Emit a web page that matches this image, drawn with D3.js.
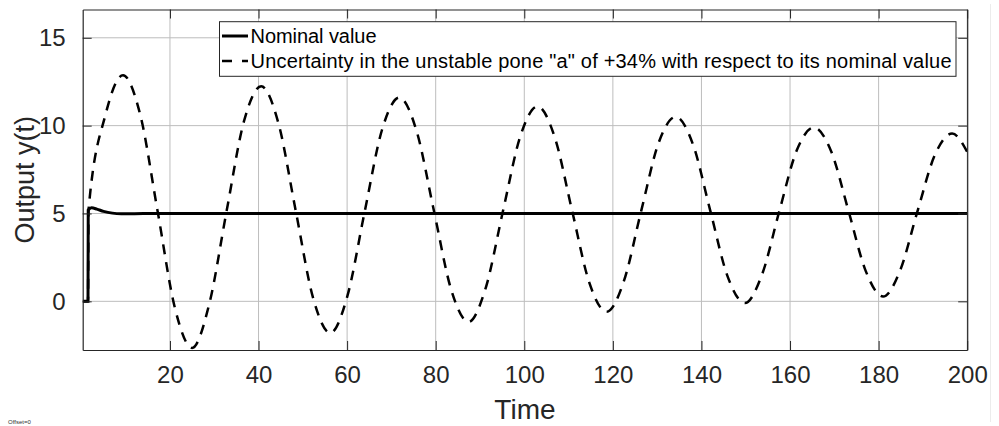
<!DOCTYPE html>
<html>
<head>
<meta charset="utf-8">
<script src="https://cdn.jsdelivr.net/npm/d3@7"></script>
<style>
  html, body { margin: 0; padding: 0; background: #fff; }
  svg { display: block; font-family: "Liberation Sans", Arial, Helvetica, sans-serif; }
</style>
</head>
<body>
<svg id="chart" width="999" height="426"></svg>
<script>
// ---- data ----
const nominalTime  = [0.3, 1.5, 1.55, 2.3, 3.5, 5, 7, 9, 12, 16, 200];
const nominalValue = [0, 0, 5.2, 5.32, 5.25, 5.12, 5.02, 4.99, 4.99, 5.0, 5.0];

const uncertainTime = [0.3, 1.5, 1.6, 5.5, 9.4, 13.3, 17.2, 21.1, 25.0, 28.9, 32.8, 36.7, 40.6, 44.5,
  48.4, 52.3, 56.2, 60.1, 64.0, 67.9, 71.8, 75.7, 79.6, 83.5, 87.4, 91.3, 95.2, 99.1, 103.0, 106.9,
  110.8, 114.7, 118.6, 122.5, 126.4, 130.3, 134.2, 138.1, 142.0, 145.9, 149.8, 153.7, 157.6, 161.5,
  165.4, 169.3, 173.2, 177.1, 181.0, 184.9, 188.8, 192.7, 196.6, 200];
const uncertainValue = [0, 0, 5.15, 10.67, 12.87, 10.61, 5.15, -0.36, -2.65, -0.12, 5.15, 10.24, 12.24, 10.13,
  5.15, 0.21, -1.8, 0.34, 5.15, 9.78, 11.6, 9.68, 5.15, 0.66, -1.17, 0.77, 5.15, 9.39, 11.1, 9.32,
  5.15, 1.05, -0.6, 1.16, 5.15, 9.0, 10.5, 8.92, 5.15, 1.42, -0.1, 1.54, 5.15, 8.58,
  9.9, 8.53, 5.15, 1.72, 0.27, 1.79, 5.15, 8.33, 9.55, 8.51];

const xTicks = [20, 40, 60, 80, 100, 120, 140, 160, 180, 200];
const yTicks = [0, 5, 10, 15];
const legendLabels = ["Nominal value", "Uncertainty in the unstable pone \"a\" of +34% with respect to its nominal value"];
const xLabel = "Time";
const yLabel = "Output y(t)";

// ---- layout ----
const L = 82.7, R = 967.2, T = 9.5, B = 350;
const svg = d3.select("#chart");

const x = d3.scaleLinear().domain([0.3, 200]).range([L, R]);
const y = d3.scaleLinear().domain([-2.77, 16.61]).range([B, T]);

// faint right border strip
svg.append("line").attr("x1", 990.5).attr("x2", 990.5).attr("y1", 4).attr("y2", 422)
  .attr("stroke", "#ececec").attr("stroke-width", 1);

// grid
const grid = svg.append("g");
grid.selectAll(".gx").data(xTicks).enter().append("line")
  .attr("x1", d => x(d)).attr("x2", d => x(d)).attr("y1", T).attr("y2", B)
  .attr("stroke", "#bdbdbd").attr("stroke-width", 1);
grid.selectAll(".gy").data(yTicks).enter().append("line")
  .attr("x1", L).attr("x2", R).attr("y1", d => y(d)).attr("y2", d => y(d))
  .attr("stroke", "#bdbdbd").attr("stroke-width", 1);

// clip
svg.append("defs").append("clipPath").attr("id", "clip")
  .append("rect").attr("x", L).attr("y", T).attr("width", R - L).attr("height", B - T);

const nomData = nominalTime.map((t, i) => [t, nominalValue[i]]);
const uncData = uncertainTime.map((t, i) => [t, uncertainValue[i]]);

const line = d3.line().x(d => x(d[0])).y(d => y(d[1])).curve(d3.curveMonotoneX);

const plot = svg.append("g").attr("clip-path", "url(#clip)");
plot.append("path").datum(uncData).attr("d", line)
  .attr("fill", "none").attr("stroke", "#000").attr("stroke-width", 2.5)
  .attr("stroke-dasharray", "10,8");
plot.append("path").datum(nomData).attr("d", line)
  .attr("fill", "none").attr("stroke", "#000").attr("stroke-width", 3);

// axes (MATLAB-like box with inward ticks)
const axisColor = "#262626";
const tickLen = 9;
const xAxisB = d3.axisBottom(x).tickValues(xTicks).tickSizeInner(-tickLen).tickSizeOuter(0).tickPadding(16);
const xAxisT = d3.axisTop(x).tickValues(xTicks).tickSizeInner(-tickLen).tickSizeOuter(0).tickFormat("");
const yAxisL = d3.axisLeft(y).tickValues(yTicks).tickSizeInner(-tickLen).tickSizeOuter(0).tickPadding(17);
const yAxisR = d3.axisRight(y).tickValues(yTicks).tickSizeInner(-tickLen).tickSizeOuter(0).tickFormat("");

function styleAxis(g) {
  g.select(".domain").attr("stroke", axisColor).attr("stroke-width", 1.2);
  g.selectAll(".tick line").attr("stroke", axisColor).attr("stroke-width", 1);
  g.selectAll(".tick text").attr("fill", "#262626").attr("font-size", 24)
    .attr("font-family", "'Liberation Sans', Arial, sans-serif");
}
svg.append("g").attr("transform", `translate(0,${B})`).call(xAxisB).call(styleAxis);
svg.append("g").attr("transform", `translate(0,${T})`).call(xAxisT).call(styleAxis);
svg.append("g").attr("transform", `translate(${L},0)`).call(yAxisL).call(styleAxis);
svg.append("g").attr("transform", `translate(${R},0)`).call(yAxisR).call(styleAxis);

// axis labels
svg.append("text").attr("x", (L + R) / 2).attr("y", 419).attr("text-anchor", "middle")
  .attr("font-size", 28).attr("fill", "#262626").text(xLabel);
svg.append("text").attr("transform", `translate(34,${(T + B) / 2}) rotate(-90)`)
  .attr("text-anchor", "middle").attr("font-size", 27).attr("fill", "#262626").text(yLabel);

// legend
const lg = svg.append("g");
lg.append("rect").attr("x", 219.5).attr("y", 21.7).attr("width", 956 - 219.5).attr("height", 76.3 - 21.7)
  .attr("fill", "#fff").attr("stroke", axisColor).attr("stroke-width", 1);
const rowsY = [36, 61];
const rowsW = [126, 701];
lg.append("line").attr("x1", 222).attr("x2", 248).attr("y1", rowsY[0]).attr("y2", rowsY[0])
  .attr("stroke", "#000").attr("stroke-width", 3);
lg.append("line").attr("x1", 222).attr("x2", 248).attr("y1", rowsY[1]).attr("y2", rowsY[1])
  .attr("stroke", "#000").attr("stroke-width", 2.5).attr("stroke-dasharray", "10,10");
legendLabels.forEach((lab, i) => {
  lg.append("text").attr("x", 250.5).attr("y", rowsY[i] + 7).attr("font-size", 20)
    .attr("textLength", rowsW[i]).attr("lengthAdjust", "spacing")
    .attr("fill", "#000").text(lab);
});

// small annotation
svg.append("text").attr("x", 8).attr("y", 424).attr("font-size", 6).attr("fill", "#333").text("Offset=0");
</script>
</body>
</html>
